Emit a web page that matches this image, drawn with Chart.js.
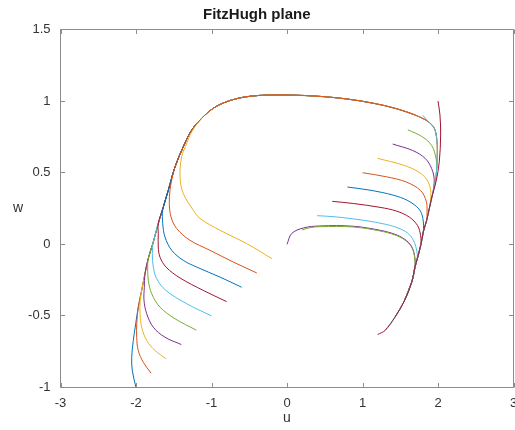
<!DOCTYPE html>
<html>
<head>
<meta charset="utf-8">
<title>FitzHugh plane</title>
<script src="https://cdn.jsdelivr.net/npm/chart.js@4.4.1/dist/chart.umd.min.js"></script>
<style>
  html, body { margin: 0; padding: 0; background: #fff; }
  canvas { display: block; }
</style>
</head>
<body>
<canvas id="phase" width="515" height="430"></canvas>
<script>
// axis ticks
const uTicks = [-3, -2, -1, 0, 1, 2, 3];
const wTicks = [-1, -0.5, 0, 0.5, 1, 1.5];

// default line colour order
const lineColors = ['#0072BD', '#D95319', '#EDB120', '#7E2F8E', '#77AC30', '#4DBEEE', '#A2142F'];

// the path every orbit settles onto: left branch up, jump across the top, right branch down
const cycle = [
    [-2.0, -1.0], [-2.049, -0.882], [-2.057, -0.789], [-2.036, -0.672], [-2.004, -0.555],
    [-1.970, -0.439], [-1.925, -0.322], [-1.881, -0.205], [-1.837, -0.098], [-1.771, 0.016],
    [-1.705, 0.145], [-1.638, 0.261], [-1.572, 0.378], [-1.483, 0.541], [-1.374, 0.681],
    [-1.262, 0.798], [-1.130, 0.880], [-0.976, 0.950], [-0.799, 0.996], [-0.579, 1.027],
    [-0.358, 1.040], [-0.093, 1.043], [0.348, 1.036], [0.791, 1.015], [1.143, 0.985],
    [1.430, 0.950], [1.695, 0.903], [1.872, 0.856], [1.951, 0.810], [1.983, 0.740],
    [1.991, 0.646], [1.983, 0.530], [1.960, 0.420], [1.925, 0.343], [1.885, 0.250],
    [1.850, 0.168], [1.805, 0.086], [1.771, -0.007], [1.726, -0.100], [1.695, -0.159],
    [1.652, -0.264], [1.550, -0.400], [1.430, -0.509], [1.298, -0.602], [1.200, -0.630]
];

// each orbit: its own first stretch, then the cycle from joinAt to endAt
const lead00 = [[-2.0, -1.0]];
const lead01 = [[-1.8, -0.9], [-1.903, -0.824], [-1.970, -0.742], [-1.991, -0.649], [-1.990, -0.555]];
const lead02 = [[-1.6, -0.8], [-1.748, -0.742], [-1.858, -0.672], [-1.925, -0.579], [-1.947, -0.485], [-1.945, -0.400]];
const lead03 = [[-1.4, -0.7], [-1.616, -0.649], [-1.771, -0.579], [-1.858, -0.485], [-1.894, -0.392], [-1.890, -0.299]];
const lead04 = [[-1.2, -0.6], [-1.483, -0.520], [-1.682, -0.439], [-1.792, -0.345], [-1.837, -0.252], [-1.845, -0.159]];
const lead05 = [[-1.0, -0.5], [-1.328, -0.415], [-1.605, -0.322], [-1.726, -0.240], [-1.771, -0.159], [-1.784, -0.065]];
const lead06 = [[-0.8, -0.4], [-1.109, -0.322], [-1.417, -0.235], [-1.600, -0.160], [-1.682, -0.090], [-1.705, -0.019], [-1.705, 0.075]];
const lead07 = [[-0.6, -0.3], [-0.887, -0.229], [-1.196, -0.159], [-1.374, -0.112], [-1.527, -0.042], [-1.616, 0.051], [-1.646, 0.145], [-1.646, 0.238]];
const lead08 = [[-0.4, -0.2], [-0.711, -0.124], [-1.020, -0.042], [-1.285, 0.028], [-1.461, 0.110], [-1.536, 0.191], [-1.559, 0.285], [-1.550, 0.378], [-1.527, 0.448]];
const lead09 = [[-0.2, -0.1], [-0.534, 0.005], [-0.887, 0.098], [-1.152, 0.180], [-1.241, 0.238], [-1.374, 0.355], [-1.417, 0.471], [-1.395, 0.611], [-1.328, 0.705], [-1.262, 0.786]];
const lead10 = [[0.0, 0.0], [0.062, 0.075], [0.216, 0.114], [0.437, 0.128], [0.878, 0.126], [1.232, 0.098], [1.430, 0.070], [1.560, 0.035], [1.645, -0.010], [1.688, -0.075]];
const lead11 = [[0.2, 0.1], [0.300, 0.116], [0.437, 0.123], [0.878, 0.121], [1.232, 0.093], [1.430, 0.065], [1.560, 0.030], [1.645, -0.015], [1.688, -0.080]];
const lead12 = [[0.4, 0.2], [0.658, 0.191], [1.011, 0.168], [1.321, 0.138], [1.500, 0.108], [1.620, 0.068], [1.690, 0.010], [1.720, -0.050]];
const lead13 = [[0.6, 0.3], [0.878, 0.285], [1.232, 0.258], [1.450, 0.232], [1.620, 0.190], [1.730, 0.130], [1.770, 0.060]];
const lead14 = [[0.8, 0.4], [1.099, 0.378], [1.408, 0.343], [1.600, 0.305], [1.750, 0.245], [1.800, 0.180]];
const lead15 = [[1.0, 0.5], [1.321, 0.471], [1.580, 0.435], [1.770, 0.375], [1.845, 0.300], [1.855, 0.220]];
const lead16 = [[1.2, 0.6], [1.540, 0.553], [1.760, 0.500], [1.865, 0.440], [1.905, 0.360]];
const lead17 = [[1.4, 0.7], [1.665, 0.655], [1.830, 0.600], [1.915, 0.530], [1.950, 0.450]];
const lead18 = [[1.6, 0.8], [1.795, 0.750], [1.916, 0.690], [1.970, 0.610]];
const lead19 = [[1.8, 0.9]];
const lead20 = [[2.0, 1.0], [2.026, 0.903], [2.035, 0.763], [2.017, 0.576], [1.975, 0.440]];

const leads = [lead00, lead01, lead02, lead03, lead04, lead05, lead06, lead07, lead08, lead09, lead10,
    lead11, lead12, lead13, lead14, lead15, lead16, lead17, lead18, lead19, lead20];
const joinAt = [1, 5, 6, 7, 8, 9, 10, 12, 13, 16, 39, 39, 38, 37, 36, 35, 34, 33, 31, 27, 33];
const endAt  = [14, 16, 18, 20, 22, 24, 26, 29, 31, 32, 41, 41, 41, 41, 41, 41, 42, 42, 42, 43, 44];

var datasets = leads.map(function (lead, k) {
    var pts = lead.concat(cycle.slice(joinAt[k], endAt[k] + 1));
    return {
        data: pts.map(function (p) { return {x: p[0], y: p[1]}; }),
        borderColor: lineColors[k % 7],
        borderWidth: 1,
        showLine: true,
        fill: false,
        pointRadius: 0,
        tension: 0.35,
        // later curves lie on top; orange 8 sits over yellow 9 along the top
        order: k === 8 ? 10.5 : 20 - k
    };
});

var fontFamily = "'Liberation Sans', Arial, Helvetica, sans-serif";
var tickFont = {family: fontFamily, size: 13};

// box round the axes with short inward ticks on all four sides, plus the upright w label
var axesBox = {
    id: 'axesBox',
    afterDatasetsDraw: function (chart) {
        var ctx = chart.ctx, a = chart.chartArea;
        var x = chart.scales.x, y = chart.scales.y;
        var len = 4.5;
        ctx.save();
        ctx.strokeStyle = '#8c8c8c';
        ctx.lineWidth = 1;
        ctx.beginPath();
        ctx.rect(a.left, a.top, a.right - a.left, a.bottom - a.top);
        uTicks.forEach(function (v) {
            var px = Math.round(x.getPixelForValue(v)) + 0.5;
            ctx.moveTo(px, a.bottom); ctx.lineTo(px, a.bottom - len);
            ctx.moveTo(px, a.top); ctx.lineTo(px, a.top + len);
        });
        wTicks.forEach(function (v) {
            var py = Math.round(y.getPixelForValue(v) - 0.5) + 0.5;
            ctx.moveTo(a.left, py); ctx.lineTo(a.left + len, py);
            ctx.moveTo(a.right, py); ctx.lineTo(a.right - len, py);
        });
        ctx.stroke();

        ctx.fillStyle = '#333';
        ctx.font = '14px ' + fontFamily;
        ctx.textAlign = 'center';
        ctx.textBaseline = 'middle';
        ctx.fillText('w', 18, (a.top + a.bottom) / 2);
        ctx.restore();
    }
};

var phaseChart = new Chart(document.getElementById('phase'), {
    type: 'scatter',
    data: {datasets: datasets},
    plugins: [axesBox],
    options: {
        responsive: false,
        animation: false,
        devicePixelRatio: 1,
        layout: {padding: {top: 0, right: 1.5, bottom: 0, left: 0}},
        plugins: {
            legend: {display: false},
            tooltip: {enabled: false},
            title: {
                display: true,
                text: 'FitzHugh plane',
                color: '#1a1a1a',
                font: {family: fontFamily, size: 15, weight: 'bold'},
                padding: {top: 5.5, bottom: 6}
            }
        },
        scales: {
            x: {
                type: 'linear',
                min: -3,
                max: 3,
                afterBuildTicks: function (s) { s.ticks = uTicks.map(function (v) { return {value: v}; }); },
                afterFit: function (s) { s.height = 42.5; s.paddingLeft = 0; s.paddingRight = 0; },
                ticks: {color: '#333', font: tickFont, padding: 8, maxRotation: 0,
                    callback: function (v) { return String(v); }},
                grid: {display: false, drawTicks: false},
                border: {display: false},
                title: {display: true, text: 'u', color: '#333', font: {family: fontFamily, size: 14}, padding: {top: 0, bottom: 3}}
            },
            y: {
                type: 'linear',
                min: -1,
                max: 1.5,
                afterBuildTicks: function (s) { s.ticks = wTicks.map(function (v) { return {value: v}; }); },
                afterFit: function (s) { s.width = 60.5; s.paddingTop = 0; s.paddingBottom = 0; },
                ticks: {color: '#333', font: tickFont, padding: 10,
                    callback: function (v) { return String(v); }},
                grid: {display: false, drawTicks: false},
                border: {display: false}
            }
        }
    }
});
</script>
</body>
</html>
